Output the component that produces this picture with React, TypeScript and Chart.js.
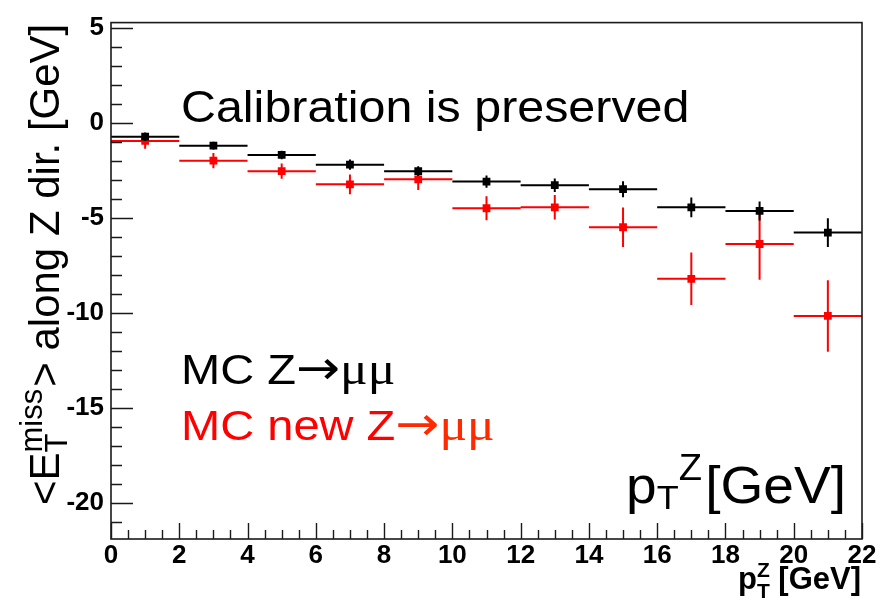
import React, { useEffect, useRef } from "react";
import { Chart, registerables } from "chart.js";

Chart.register(...registerables);

// Bins in p_T^Z (GeV): centres and half width
const binCenters = [1, 3, 5, 7, 9, 11, 13, 15, 17, 19, 21];
const binHalfWidth = 1;

// Mean missing E_T projected along the Z direction (GeV)
const mcZmumu = [-0.73, -1.2, -1.69, -2.2, -2.54, -3.09, -3.28, -3.49, -4.44, -4.63, -5.77];
const mcZmumuErr = [0.22, 0.2, 0.22, 0.27, 0.26, 0.32, 0.35, 0.42, 0.52, 0.5, 0.76];
const mcNewZmumu = [-0.95, -1.99, -2.54, -3.23, -2.97, -4.49, -4.44, -5.49, -8.2, -6.37, -10.15];
const mcNewZmumuErr = [0.41, 0.4, 0.4, 0.52, 0.56, 0.63, 0.64, 1.04, 1.38, 1.88, 1.88];

// Axis ranges and tick labels
const xRange = [0, 22];
const yRange = [-21.88, 5.27];
const xTickValues = [0, 2, 4, 6, 8, 10, 12, 14, 16, 18, 20, 22];
const yTickValues = [5, 0, -5, -10, -15, -20];
const xMinorStep = 0.5;
const yMinorStep = 1;

const SANS = "'Liberation Sans', Arial, Helvetica, sans-serif";
const NARROW = "'Liberation Sans Narrow', 'Liberation Sans', Arial, sans-serif";
const SERIF = "'Liberation Serif', 'Times New Roman', serif";
const ARROW = "'DejaVu Sans', sans-serif";
const RED = "#ff0000";
const RED_ARROW = "#ff2a00";

type Seg = {
  t: string;
  font: string;
  color?: string;
  dy?: number;
  gap?: number;
  stack?: { t: string; font: string; dy: number };
};

function segWidth(ctx: CanvasRenderingContext2D, s: Seg) {
  ctx.font = s.font;
  let w = ctx.measureText(s.t).width;
  if (s.stack) {
    ctx.font = s.stack.font;
    w = Math.max(w, ctx.measureText(s.stack.t).width);
  }
  return w + (s.gap ?? 0);
}

function richWidth(ctx: CanvasRenderingContext2D, segs: Seg[]) {
  return segs.reduce((a, s) => a + segWidth(ctx, s), 0);
}

function drawRich(ctx: CanvasRenderingContext2D, segs: Seg[], x: number, y: number, color: string) {
  let cx = x;
  ctx.textAlign = "left";
  ctx.textBaseline = "alphabetic";
  for (const s of segs) {
    ctx.fillStyle = s.color ?? color;
    ctx.font = s.font;
    ctx.fillText(s.t, cx, y + (s.dy ?? 0));
    if (s.stack) {
      ctx.font = s.stack.font;
      ctx.fillText(s.stack.t, cx, y + s.stack.dy);
    }
    cx += segWidth(ctx, s);
  }
}

// Horizontal error bars span the bin, vertical ones the statistical error
const errorBars = {
  id: "errorBars",
  beforeDatasetDraw(chart: any, args: any) {
    const ds = chart.data.datasets[args.index];
    const xs = chart.scales.x;
    const ys = chart.scales.y;
    const ctx: CanvasRenderingContext2D = chart.ctx;
    const area = chart.chartArea;
    ctx.save();
    ctx.beginPath();
    ctx.rect(area.left, area.top, area.right - area.left, area.bottom - area.top);
    ctx.clip();
    ctx.strokeStyle = ds.borderColor;
    ctx.lineWidth = 2;
    ctx.beginPath();
    ds.data.forEach((p: { x: number; y: number }, i: number) => {
      const px = xs.getPixelForValue(p.x);
      const py = ys.getPixelForValue(p.y);
      ctx.moveTo(xs.getPixelForValue(p.x - binHalfWidth), py);
      ctx.lineTo(xs.getPixelForValue(p.x + binHalfWidth), py);
      ctx.moveTo(px, ys.getPixelForValue(p.y + ds.errors[i]));
      ctx.lineTo(px, ys.getPixelForValue(p.y - ds.errors[i]));
    });
    ctx.stroke();
    ctx.restore();
  },
};

// Frame with inward ticks on the left and bottom axes
const frameTicks = {
  id: "frameTicks",
  afterDatasetsDraw(chart: any) {
    const ctx: CanvasRenderingContext2D = chart.ctx;
    const { left, right, top, bottom } = chart.chartArea;
    const xs = chart.scales.x;
    const ys = chart.scales.y;
    ctx.save();
    ctx.strokeStyle = "#1a1a1a";
    ctx.lineWidth = 1.6;
    ctx.strokeRect(left, top, right - left, bottom - top);
    ctx.lineWidth = 1.4;
    ctx.beginPath();
    const eps = 1e-6;
    for (let v = Math.ceil(yRange[0]); v <= yRange[1] + eps; v += yMinorStep) {
      const major = yTickValues.includes(v);
      const py = Math.round(ys.getPixelForValue(v)) + 0.5;
      ctx.moveTo(left, py);
      ctx.lineTo(left + (major ? 22 : 11), py);
    }
    for (let v = xRange[0]; v <= xRange[1] + eps; v += xMinorStep) {
      const major = xTickValues.includes(v);
      const px = Math.round(xs.getPixelForValue(v)) + 0.5;
      ctx.moveTo(px, bottom);
      ctx.lineTo(px, bottom - (major ? 16 : 9));
    }
    ctx.stroke();
    ctx.restore();
  },
};

// Axis titles and in-frame text
const annotations = {
  id: "annotations",
  afterDraw(chart: any) {
    const ctx: CanvasRenderingContext2D = chart.ctx;
    ctx.save();

    // y-axis title, rotated, reading upwards
    const yTitle: Seg[] = [
      { t: "<E", font: `42px ${SANS}` },
      {
        t: "T",
        font: `31px ${SANS}`,
        dy: 8,
        stack: { t: "miss", font: `31px ${SANS}`, dy: -17 },
        gap: 2,
      },
      { t: "> along Z dir. [GeV]", font: `42px ${SANS}` },
    ];
    ctx.save();
    ctx.translate(59, 505);
    ctx.rotate(-Math.PI / 2);
    drawRich(ctx, yTitle, 0, 0, "#000");
    ctx.restore();

    // x-axis title, bold, right-aligned with the frame
    const xTitle: Seg[] = [
      { t: "p", font: `bold 31px ${SANS}` },
      {
        t: "T",
        font: `bold 21px ${SANS}`,
        dy: 9,
        stack: { t: "Z", font: `bold 21px ${SANS}`, dy: -12 },
      },
      { t: " [GeV]", font: `bold 31px ${SANS}` },
    ];
    const xw = richWidth(ctx, xTitle);
    drawRich(ctx, xTitle, 861 - xw, 589, "#000");

    // Horizontally stretched in-frame annotations
    const drawStretched = (segs: Seg[], x: number, y: number, color: string, sx: number) => {
      ctx.save();
      ctx.translate(x, y);
      ctx.scale(sx, 1);
      drawRich(ctx, segs, 0, 0, color);
      ctx.restore();
    };

    drawStretched([{ t: "Calibration is preserved", font: `44px ${SANS}` }], 181, 122, "#000", 1.1);

    drawStretched(
      [
        { t: "MC Z", font: `42px ${SANS}` },
        { t: "\u2192", font: `47px ${ARROW}`, dy: 0 },
        { t: "\u03bc\u03bc", font: `46px ${SERIF}` },
      ],
      181,
      384,
      "#000",
      1.12
    );
    drawStretched(
      [
        { t: "MC new Z", font: `42px ${SANS}` },
        { t: "\u2192", font: `47px ${ARROW}`, dy: 0, color: RED_ARROW },
        { t: "\u03bc\u03bc", font: `46px ${SERIF}`, color: RED_ARROW },
      ],
      181,
      440,
      RED,
      1.12
    );

    drawStretched(
      [
        { t: "p", font: `52px ${SANS}` },
        { t: "T", font: `34px ${SANS}`, dy: 6 },
        { t: "Z", font: `36px ${SANS}`, dy: -23, gap: 3 },
        { t: "[GeV]", font: `52px ${SANS}` },
      ],
      626,
      503,
      "#000",
      1.06
    );

    ctx.restore();
  },
};

export default function App() {
  const canvasRef = useRef<HTMLCanvasElement | null>(null);

  useEffect(() => {
    const canvas = canvasRef.current;
    if (!canvas) return;
    const tickFont = { family: NARROW, size: 26, weight: "bold" as const };

    const chart = new Chart(canvas, {
      type: "scatter",
      data: {
        datasets: [
          {
            label: "MC Z\u2192\u03bc\u03bc",
            data: binCenters.map((x, i) => ({ x, y: mcZmumu[i] })),
            errors: mcZmumuErr,
            backgroundColor: "#000000",
            borderColor: "#000000",
            pointStyle: "rect",
            pointRadius: 5.5,
            pointBorderWidth: 0,
            showLine: false,
          } as any,
          {
            label: "MC new Z\u2192\u03bc\u03bc",
            data: binCenters.map((x, i) => ({ x, y: mcNewZmumu[i] })),
            errors: mcNewZmumuErr,
            backgroundColor: RED,
            borderColor: RED,
            pointStyle: "rect",
            pointRadius: 5.5,
            pointBorderWidth: 0,
            showLine: false,
          } as any,
        ],
      },
      options: {
        responsive: false,
        devicePixelRatio: 1,
        animation: false,
        layout: { padding: { top: 14, right: 28, left: 0, bottom: 0 } },
        plugins: {
          legend: { display: false },
          tooltip: { enabled: false },
        },
        scales: {
          x: {
            type: "linear",
            position: "bottom",
            min: xRange[0],
            max: xRange[1],
            afterBuildTicks: (s: any) => {
              s.ticks = xTickValues.map((value) => ({ value }));
            },
            afterFit: (s: any) => {
              s.height = 64;
            },
            ticks: {
              font: tickFont,
              color: "#000",
              padding: 1,
              maxRotation: 0,
              autoSkip: false,
              callback: (v: any) => String(v),
            },
            grid: { display: false, drawTicks: false },
            border: { display: false },
          },
          y: {
            type: "linear",
            min: yRange[0],
            max: yRange[1],
            afterBuildTicks: (s: any) => {
              s.ticks = yTickValues.map((value) => ({ value }));
            },
            afterFit: (s: any) => {
              s.width = 111;
            },
            ticks: {
              font: tickFont,
              color: "#000",
              padding: 7,
              autoSkip: false,
              callback: (v: any) => String(v),
            },
            grid: { display: false, drawTicks: false },
            border: { display: false },
          },
        },
      },
      plugins: [errorBars, frameTicks, annotations],
    });

    return () => chart.destroy();
  }, []);

  return (
    <div style={{ position: "absolute", left: 0, top: 0, width: 890, height: 603, background: "#fff" }}>
      <canvas ref={canvasRef} width={890} height={603} style={{ display: "block" }} />
    </div>
  );
}
